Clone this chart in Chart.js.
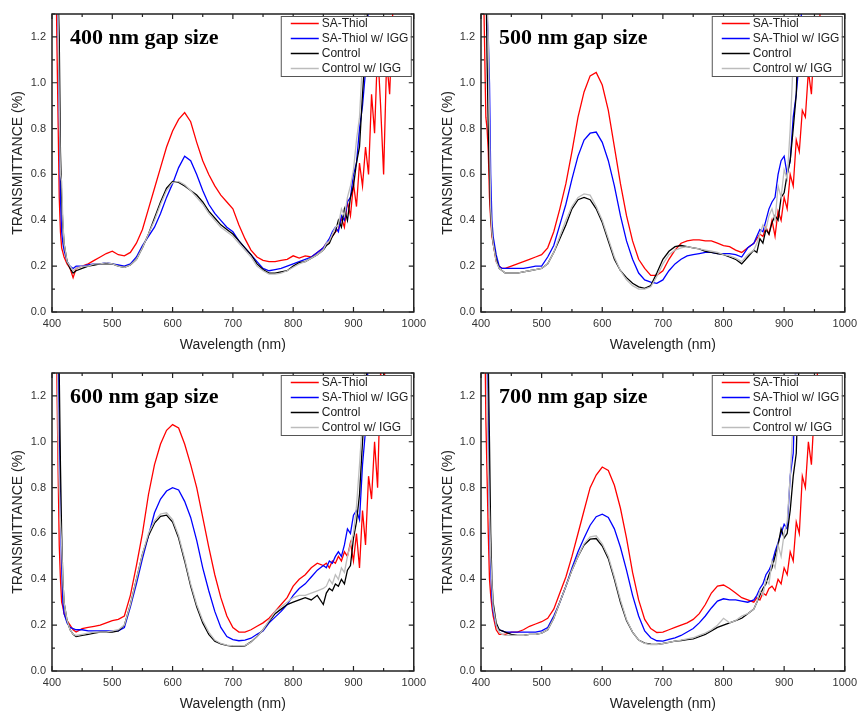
<!DOCTYPE html>
<html>
<head>
<meta charset="utf-8">
<script src="https://cdn.jsdelivr.net/npm/chart.js@4.4.1/dist/chart.umd.min.js"></script>
<style>
  body { margin: 0; width: 862px; height: 711px; overflow: hidden; background: #fff; position: relative; }
  canvas { position: absolute; }
</style>
</head>
<body>
<canvas id="p400" width="431" height="355" style="left:0;top:0"></canvas>
<canvas id="p500" width="431" height="355" style="left:431px;top:0"></canvas>
<canvas id="p600" width="431" height="360" style="left:0;top:355px"></canvas>
<canvas id="p700" width="431" height="360" style="left:431px;top:355px"></canvas>
<script>
// wavelength grid (nm): 405-440, 450-850 every 10, 855-970 every 5
const wavelength = [
  405, 408, 410, 412, 414, 416, 418, 420, 425, 430, 435, 440,
  450, 460, 470, 480, 490, 500, 510, 520, 530, 540, 550, 560, 570, 580, 590, 600, 610, 620, 630, 640,
  650, 660, 670, 680, 690, 700, 710, 720, 730, 740, 750, 760, 770, 780, 790, 800, 810, 820, 830, 840, 850,
  855, 860, 865, 870, 875, 880, 885, 890, 895, 900, 905, 910, 915, 920, 925, 930, 935, 940, 945, 950, 955, 960, 965, 970
];

const seriesLabels = ["SA-Thiol", "SA-Thiol w/ IGG", "Control", "Control w/ IGG"];
const seriesColors = ["#ff0000", "#0000ff", "#000000", "#bcbcbc"];
const panelTitles = ["400 nm gap size", "500 nm gap size", "600 nm gap size", "700 nm gap size"];

// 400 nm gap
const gap400SaThiol = [
  1.8, 1.2, 0.85, 0.5, 0.35, 0.28, 0.26, 0.24, 0.21, 0.19, 0.15, 0.19,
  0.2, 0.21, 0.225, 0.24, 0.255, 0.265, 0.25, 0.245, 0.26, 0.3,
  0.36, 0.45, 0.54, 0.63, 0.72, 0.79, 0.84, 0.87, 0.83, 0.74,
  0.66, 0.6, 0.55, 0.51, 0.48, 0.45, 0.38, 0.32, 0.27, 0.24,
  0.225, 0.22, 0.22, 0.225, 0.23, 0.245, 0.235, 0.245, 0.24, 0.26,
  0.28,
  0.3, 0.31, 0.33, 0.35, 0.36, 0.41, 0.37, 0.48, 0.42, 0.56, 0.46, 0.65, 0.55, 0.72, 0.6, 0.95, 0.78, 1.15, 0.9, 0.6, 1.1, 0.95, 1.3, 1.5
];
const gap400SaThiolIgg = [
  1.8, 1.5, 1.3, 0.9, 0.5, 0.35, 0.3, 0.27, 0.22, 0.2, 0.19, 0.2,
  0.2, 0.205, 0.21, 0.21, 0.215, 0.21, 0.205, 0.2, 0.21, 0.24,
  0.29, 0.33, 0.37, 0.43, 0.5, 0.56, 0.63, 0.68, 0.66, 0.6,
  0.53, 0.47, 0.43, 0.4, 0.37, 0.35, 0.31, 0.28, 0.25, 0.22,
  0.19, 0.18, 0.185, 0.19, 0.2, 0.21, 0.22, 0.23, 0.24, 0.26,
  0.28,
  0.3, 0.32, 0.35, 0.37, 0.35, 0.42, 0.4, 0.48, 0.5, 0.6, 0.65, 0.8, 0.9, 1.05, 1.35, null, null, null, null, null, null, null, null, null
];
const gap400Control = [
  1.8, 1.6, 1.4, 1.2, 0.7, 0.5, 0.38, 0.3, 0.22, 0.19, 0.17, 0.18,
  0.19, 0.2, 0.205, 0.21, 0.21, 0.21, 0.2, 0.195, 0.205, 0.23,
  0.28, 0.34, 0.41, 0.48, 0.54, 0.57, 0.565, 0.55, 0.53, 0.51,
  0.48, 0.44, 0.41, 0.38, 0.36, 0.34, 0.31, 0.28, 0.25, 0.21,
  0.185, 0.17, 0.17, 0.175, 0.18, 0.2, 0.215, 0.22, 0.235, 0.25,
  0.27,
  0.29, 0.3, 0.33, 0.35, 0.4, 0.37, 0.45, 0.4, 0.5, 0.55, 0.65, 0.72, 0.95, 1.15, 1.4, null, null, null, null, null, null, null, null, null
];
const gap400ControlIgg = [
  1.8, 1.6, 1.3, 0.9, 0.6, 0.57, 0.4, 0.3, 0.22, 0.2, 0.18, 0.19,
  0.2, 0.2, 0.21, 0.21, 0.215, 0.21, 0.2, 0.195, 0.205, 0.23,
  0.28, 0.34, 0.4, 0.47, 0.53, 0.565, 0.57, 0.555, 0.53, 0.5,
  0.47, 0.43, 0.4, 0.37, 0.35, 0.33, 0.3, 0.27, 0.24, 0.2,
  0.18, 0.165, 0.165, 0.17, 0.18, 0.195, 0.21, 0.22, 0.235, 0.25,
  0.27,
  0.3, 0.31, 0.34, 0.37, 0.38, 0.45, 0.42, 0.5, 0.55, 0.62, 0.75, 0.85, 1.1, 1.35, null, null, null, null, null, null, null, null, null, null
];

// 500 nm gap
const gap500SaThiol = [
  1.3, 0.85, 0.8, 0.7, 0.5, 0.4, 0.33, 0.3, 0.22, 0.2, 0.19, 0.19,
  0.2, 0.21, 0.22, 0.23, 0.24, 0.25, 0.28, 0.35, 0.45, 0.56,
  0.7, 0.85, 0.96, 1.03, 1.045, 0.99, 0.88, 0.72, 0.56, 0.42,
  0.31, 0.23, 0.19, 0.16, 0.16, 0.18, 0.23, 0.27, 0.3, 0.31,
  0.315, 0.315, 0.31, 0.31, 0.3, 0.29, 0.285, 0.27, 0.26, 0.28,
  0.3,
  0.32, 0.34, 0.33, 0.37, 0.34, 0.4, 0.33, 0.44, 0.4, 0.5, 0.45, 0.6, 0.55, 0.75, 0.7, 0.88, 0.85, 1.05, 0.95, 1.2, 1.05, 1.35, 1.5, null
];
const gap500SaThiolIgg = [
  1.8, 1.5, 1.3, 1.2, 1.0, 0.6, 0.4, 0.33, 0.25, 0.2, 0.19, 0.19,
  0.19, 0.19, 0.19, 0.195, 0.2, 0.2, 0.24, 0.29, 0.38, 0.47,
  0.58, 0.68, 0.75, 0.78, 0.785, 0.74, 0.66, 0.55, 0.42, 0.31,
  0.23, 0.17, 0.14, 0.13, 0.125, 0.14, 0.18, 0.21, 0.23, 0.245,
  0.25, 0.255, 0.26, 0.26, 0.255, 0.255, 0.255, 0.25, 0.24, 0.28,
  0.3,
  0.33, 0.36, 0.35, 0.4, 0.45, 0.48, 0.5, 0.6, 0.66, 0.68, 0.6, 0.66, 0.85, 0.95, 1.1, 1.4, null, null, null, null, null, null, null, null
];
const gap500Control = [
  1.8, 1.5, 1.1, 0.8, 0.6, 0.42, 0.35, 0.3, 0.23, 0.19, 0.18, 0.17,
  0.17, 0.17, 0.175, 0.18, 0.185, 0.19, 0.21, 0.26, 0.32, 0.38,
  0.45, 0.49, 0.5, 0.49, 0.45, 0.39, 0.31, 0.23, 0.18, 0.15,
  0.125, 0.11, 0.103, 0.115, 0.17, 0.23, 0.265, 0.285, 0.29, 0.285,
  0.28, 0.275, 0.265, 0.26, 0.255, 0.25, 0.24, 0.23, 0.21, 0.24,
  0.27,
  0.26, 0.32, 0.3, 0.36, 0.34, 0.39, 0.42, 0.4, 0.5, 0.52, 0.6, 0.66, 0.8, 0.95, 1.4, null, null, null, null, null, null, null, null, null
];
const gap500ControlIgg = [
  1.8, 1.6, 1.4, 1.2, 0.8, 0.45, 0.35, 0.3, 0.22, 0.19, 0.18, 0.17,
  0.17, 0.17, 0.175, 0.18, 0.185, 0.19, 0.21, 0.26, 0.33, 0.4,
  0.46, 0.5, 0.515, 0.51, 0.46, 0.4, 0.32, 0.24, 0.18, 0.14,
  0.115, 0.1, 0.1, 0.11, 0.155, 0.21, 0.25, 0.27, 0.28, 0.285,
  0.28, 0.275, 0.27, 0.265, 0.26, 0.25, 0.245, 0.235, 0.22, 0.25,
  0.27,
  0.3, 0.34, 0.38, 0.36, 0.42, 0.45, 0.4, 0.55, 0.5, 0.62, 0.58, 0.8, 1.1, 1.4, null, null, null, null, null, null, null, null, null, null
];

// 600 nm gap
const gap600SaThiol = [
  1.8, 1.3, 0.9, 0.55, 0.4, 0.3, 0.28, 0.25, 0.22, 0.2, 0.18, 0.17,
  0.185, 0.19, 0.195, 0.2, 0.21, 0.22, 0.225, 0.24, 0.33, 0.46,
  0.6, 0.77, 0.9, 0.99, 1.05, 1.075, 1.06, 0.99, 0.9, 0.8,
  0.67, 0.54, 0.42, 0.32, 0.24, 0.19, 0.17, 0.17, 0.18, 0.195,
  0.21, 0.23, 0.26, 0.29, 0.32, 0.37, 0.4, 0.42, 0.45, 0.47,
  0.46,
  0.47, 0.45, 0.48, 0.47, 0.5, 0.48, 0.52, 0.5, 0.56, 0.48, 0.6, 0.45, 0.7, 0.55, 0.85, 0.75, 1.0, 0.8, 1.3, 1.2, 1.5, null, null, null
];
const gap600SaThiolIgg = [
  1.8, 1.6, 1.4, 1.05, 0.7, 0.45, 0.3, 0.25, 0.21, 0.19, 0.185, 0.18,
  0.18, 0.175, 0.175, 0.175, 0.175, 0.175, 0.175, 0.19, 0.28, 0.38,
  0.49, 0.59, 0.69, 0.75, 0.785, 0.8, 0.79, 0.74, 0.67, 0.57,
  0.45, 0.35, 0.26, 0.19, 0.15, 0.137, 0.132, 0.135, 0.143, 0.16,
  0.175, 0.21, 0.235, 0.26, 0.29, 0.33, 0.36, 0.38, 0.41, 0.44,
  0.46,
  0.45, 0.48, 0.47, 0.5, 0.52, 0.5, 0.55, 0.62, 0.6, 0.68, 0.7, 0.66, 0.9, 1.05, 1.4, null, null, null, null, null, null, null, null, null
];
const gap600Control = [
  1.8, 1.6, 1.5, 1.3, 0.9, 0.6, 0.4, 0.3, 0.22, 0.18, 0.16, 0.15,
  0.155, 0.16, 0.165, 0.17, 0.17, 0.17, 0.175, 0.2, 0.29, 0.4,
  0.51, 0.59, 0.645, 0.675, 0.68, 0.65, 0.58, 0.48, 0.37, 0.28,
  0.21, 0.16, 0.13, 0.118, 0.112, 0.108, 0.107, 0.11, 0.127, 0.15,
  0.18, 0.215, 0.25, 0.27, 0.29, 0.3, 0.31, 0.32, 0.31, 0.33,
  0.29,
  0.34, 0.36, 0.35, 0.38, 0.37, 0.4, 0.38, 0.44, 0.46, 0.58, 0.65, 0.77, 1.0, 1.2, 1.5, null, null, null, null, null, null, null, null, null
];
const gap600ControlIgg = [
  1.8, 1.6, 1.05, 0.8, 0.65, 0.55, 0.4, 0.3, 0.22, 0.18, 0.16, 0.155,
  0.16, 0.165, 0.17, 0.17, 0.17, 0.175, 0.18, 0.2, 0.29, 0.4,
  0.51, 0.6, 0.655, 0.685, 0.69, 0.66, 0.59, 0.49, 0.38, 0.29,
  0.22, 0.17, 0.135, 0.12, 0.113, 0.11, 0.11, 0.112, 0.125, 0.15,
  0.18, 0.22, 0.26, 0.28, 0.3, 0.32, 0.33, 0.33, 0.34, 0.35,
  0.36,
  0.37, 0.4, 0.38, 0.42, 0.4, 0.45, 0.43, 0.5, 0.55, 0.6, 0.72, 0.9, 1.1, 1.4, null, null, null, null, null, null, null, null, null, null
];

// 700 nm gap
const gap700SaThiol = [
  1.8, 1.1, 0.85, 0.6, 0.4, 0.33, 0.28, 0.24, 0.18, 0.16, 0.16, 0.16,
  0.17, 0.17, 0.18, 0.195, 0.205, 0.215, 0.23, 0.27, 0.34, 0.41,
  0.5, 0.6, 0.7, 0.8, 0.855, 0.89, 0.875, 0.81, 0.71, 0.58,
  0.43, 0.31, 0.225, 0.185, 0.168, 0.17, 0.18, 0.19, 0.2, 0.21,
  0.225, 0.25, 0.29, 0.34, 0.37, 0.375, 0.36, 0.34, 0.32, 0.31,
  0.3,
  0.32, 0.31, 0.34, 0.33, 0.36, 0.37, 0.35, 0.4, 0.38, 0.45, 0.42, 0.52, 0.48, 0.65, 0.6, 0.85, 0.8, 1.0, 0.9, 1.15, 1.3, 1.6, null, null
];
const gap700SaThiolIgg = [
  1.8, 1.6, 1.4, 1.1, 0.7, 0.45, 0.32, 0.26, 0.2, 0.18, 0.175, 0.17,
  0.17, 0.17, 0.17, 0.17, 0.17, 0.175, 0.19, 0.24, 0.3, 0.37,
  0.45, 0.52, 0.58, 0.636, 0.673, 0.684, 0.67, 0.62, 0.54, 0.44,
  0.33, 0.24, 0.175, 0.145, 0.132, 0.13, 0.138, 0.145, 0.155, 0.17,
  0.185, 0.21, 0.24, 0.275, 0.305, 0.315, 0.31, 0.31, 0.305, 0.3,
  0.31,
  0.33, 0.36, 0.38, 0.42, 0.44, 0.47, 0.52, 0.56, 0.6, 0.64, 0.62, 0.85, 0.95, 1.4, null, null, null, null, null, null, null, null, null, null
];
const gap700Control = [
  1.8, 1.7, 1.5, 1.35, 1.0, 0.6, 0.4, 0.3, 0.21, 0.18, 0.175, 0.17,
  0.16, 0.155, 0.155, 0.16, 0.16, 0.165, 0.18, 0.23, 0.3, 0.37,
  0.44, 0.5, 0.55, 0.575, 0.578, 0.545, 0.49, 0.4, 0.3, 0.22,
  0.17, 0.135, 0.122, 0.117, 0.116, 0.12, 0.125, 0.13, 0.133, 0.137,
  0.14, 0.15, 0.16, 0.175, 0.19, 0.2, 0.21, 0.22, 0.23, 0.25,
  0.27,
  0.3, 0.33, 0.36, 0.38, 0.42, 0.45, 0.5, 0.55, 0.62, 0.58, 0.6, 0.7, 0.85, 0.95, 1.4, null, null, null, null, null, null, null, null, null
];
const gap700ControlIgg = [
  1.8, 1.6, 1.2, 0.9, 0.7, 0.5, 0.38, 0.28, 0.2, 0.17, 0.16, 0.155,
  0.155, 0.155, 0.155, 0.16, 0.16, 0.165, 0.18, 0.23, 0.3, 0.37,
  0.44, 0.5, 0.555, 0.585, 0.59, 0.555, 0.5, 0.41, 0.31, 0.225,
  0.17, 0.135, 0.12, 0.115, 0.115, 0.12, 0.125, 0.13, 0.135, 0.14,
  0.145, 0.155, 0.165, 0.18, 0.2, 0.23, 0.21, 0.22, 0.24, 0.25,
  0.27,
  0.3, 0.35, 0.33, 0.4, 0.38, 0.48, 0.45, 0.55, 0.5, 0.6, 0.65, 0.85, 1.1, 1.4, null, null, null, null, null, null, null, null, null, null
];

const FONT = "'Liberation Sans', Arial, sans-serif";

// draws the closed frame, inward ticks, legend box and panel title
const framePlugin = {
  id: "frame",
  afterDatasetsDraw(chart) {
    const { ctx, chartArea: a, scales: { x, y } } = chart;
    ctx.save();
    ctx.strokeStyle = "#222";
    ctx.lineWidth = 1.2;
    ctx.beginPath();
    for (let v = 400; v <= 1000; v += 50) {
      const px = x.getPixelForValue(v);
      const len = v % 100 ? 3 : 5;
      ctx.moveTo(px, a.bottom); ctx.lineTo(px, a.bottom - len);
      ctx.moveTo(px, a.top); ctx.lineTo(px, a.top + len);
    }
    for (let i = 0; i <= 13; i++) {
      const py = y.getPixelForValue(i / 10);
      const len = i % 2 ? 3 : 5;
      ctx.moveTo(a.left, py); ctx.lineTo(a.left + len, py);
      ctx.moveTo(a.right, py); ctx.lineTo(a.right - len, py);
    }
    ctx.stroke();
    ctx.lineWidth = 1.5;
    ctx.strokeRect(a.left, a.top, a.right - a.left, a.bottom - a.top);
    ctx.restore();
  },
  afterDraw(chart) {
    const { ctx, chartArea: a } = chart;
    const bx = a.right - 133, by = a.top + 2, bw = 130, bh = 60;
    ctx.save();
    ctx.fillStyle = "#fff";
    ctx.fillRect(bx, by, bw, bh);
    ctx.strokeStyle = "#555";
    ctx.lineWidth = 1;
    ctx.strokeRect(bx + 0.5, by + 0.5, bw, bh);
    ctx.font = "12px " + FONT;
    ctx.textBaseline = "middle";
    chart.data.datasets.forEach((ds, i) => {
      const ly = by + 7.5 + i * 15;
      ctx.strokeStyle = ds.borderColor;
      ctx.lineWidth = 1.5;
      ctx.beginPath();
      ctx.moveTo(bx + 10, ly); ctx.lineTo(bx + 38, ly);
      ctx.stroke();
      ctx.fillStyle = "#222";
      ctx.fillText(ds.label, bx + 41, ly);
    });
    ctx.fillStyle = "#000";
    ctx.font = "bold 22px 'Liberation Serif', 'Times New Roman', serif";
    ctx.textBaseline = "alphabetic";
    ctx.fillText(chart.options.plugins.frame.title, a.left + 18, a.top + 30);
    ctx.restore();
  }
};

function makePanel(id, title, series, box) {
  const canvas = document.getElementById(id);
  const W = canvas.width, H = canvas.height;
  const order = [3, 2, 1, 0];
  return new Chart(canvas, {
    type: "line",
    data: {
      datasets: series.map((vals, i) => ({
        label: seriesLabels[i],
        data: wavelength.map((w, j) => ({ x: w, y: vals[j] })),
        borderColor: seriesColors[i],
        borderWidth: 1.3,
        pointRadius: 0,
        tension: 0,
        fill: false,
        order: order[i]
      }))
    },
    options: {
      responsive: false,
      animation: false,
      events: [],
      layout: { padding: { top: box.top, right: W - box.right, left: 0, bottom: 0 } },
      plugins: {
        legend: { display: false },
        tooltip: { enabled: false },
        frame: { title }
      },
      scales: {
        x: {
          type: "linear",
          min: 400,
          max: 1000,
          grid: { display: false, drawTicks: false },
          border: { display: false },
          ticks: {
            stepSize: 100, padding: 5, color: "#333", maxRotation: 0,
            font: { size: 11, family: FONT }, callback: v => String(v)
          },
          title: {
            display: true, text: "Wavelength (nm)", color: "#222",
            font: { size: 14, family: FONT }, padding: { top: 0, bottom: H - box.xTitle - 8.4 }
          },
          afterFit: s => { s.height = H - box.bottom; }
        },
        y: {
          type: "linear",
          min: 0,
          max: 1.3,
          grid: { display: false, drawTicks: false },
          border: { display: false },
          ticks: {
            stepSize: 0.2, includeBounds: false, padding: 6, color: "#333",
            font: { size: 11, family: FONT }, callback: v => v.toFixed(1)
          },
          title: {
            display: true, text: "TRANSMITTANCE (%)", color: "#222",
            font: { size: 14, family: FONT }, padding: { top: box.yTitle - 8.4, bottom: 0 }
          },
          afterFit: s => { s.width = box.left; }
        }
      }
    },
    plugins: [framePlugin]
  });
}

makePanel("p400", panelTitles[0], [gap400SaThiol, gap400SaThiolIgg, gap400Control, gap400ControlIgg],
  { left: 52, top: 14, right: 418, bottom: 312, xTitle: 345, yTitle: 18 });
makePanel("p500", panelTitles[1], [gap500SaThiol, gap500SaThiolIgg, gap500Control, gap500ControlIgg],
  { left: 50, top: 14, right: 417, bottom: 312, xTitle: 345, yTitle: 17 });
makePanel("p600", panelTitles[2], [gap600SaThiol, gap600SaThiolIgg, gap600Control, gap600ControlIgg],
  { left: 52, top: 18, right: 418, bottom: 316, xTitle: 349, yTitle: 18 });
makePanel("p700", panelTitles[3], [gap700SaThiol, gap700SaThiolIgg, gap700Control, gap700ControlIgg],
  { left: 50, top: 18, right: 417, bottom: 316, xTitle: 349, yTitle: 17 });
</script>
</body>
</html>
